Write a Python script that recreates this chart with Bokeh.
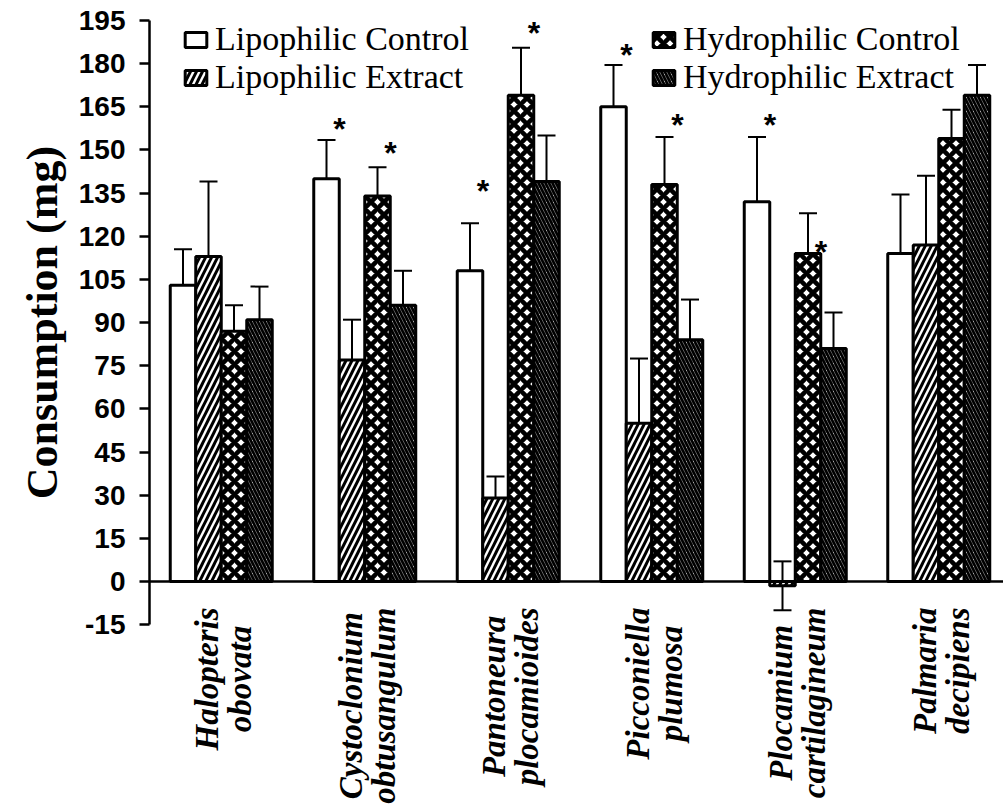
import math
from bokeh.plotting import figure
from bokeh.models import (ColumnDataSource, Whisker, TeeHead, Span, Legend, LegendItem,
                          FixedTicker, Title)
from bokeh.core.properties import value
from bokeh.embed import file_html
from bokeh.resources import INLINE

# ---------------- data ----------------
species_line1 = ["Halopteris", "Cystoclonium", "Pantoneura", "Picconiella", "Plocamium", "Palmaria"]
species_line2 = ["obovata", "obtusangulum", "plocamioides", "plumosa", "cartilagineum", "decipiens"]

series_names = ["Lipophilic Control", "Lipophilic Extract", "Hydrophilic Control", "Hydrophilic Extract"]

lipo_control = [103, 140, 108, 165, 132, 114]
lipo_control_err = [12.5, 13.5, 16.5, 14.5, 22.5, 20.5]
lipo_extract = [113, 77, 29, 55, -1.5, 117]
lipo_extract_err = [26, 14, 7.5, 22.5, 8.5, 24]
hydro_control = [87, 134, 169, 138, 114, 154]
hydro_control_err = [9, 10, 16.5, 16.5, 14, 10]
hydro_extract = [91, 96, 139, 84, 81, 169]
hydro_extract_err = [11.5, 12, 16, 14, 12.5, 10.5]

# height (mg) of each significance star's centre; None = no star
lipo_control_star = [None, 158.5, 137, 184.5, 160, None]
hydro_control_star = [None, 150.5, 192, 160, 116, None]

y_ticks = list(range(-15, 196, 15))
y_tick_labels = {t: str(t) for t in y_ticks}

# ---------------- layout helpers ----------------
FRAME_W, FRAME_H, LEFT = 854, 804, 149
PX_PER_CAT = 143.5
PX_PER_UNIT = 2.877
ZERO_PX = 581
n = len(species_line1)
bar_w = 25.5 / PX_PER_CAT
offsets = [-1.5 * bar_w, -0.5 * bar_w, 0.5 * bar_w, 1.5 * bar_w]

p = figure(width=LEFT + FRAME_W, height=FRAME_H,
           frame_width=FRAME_W, frame_height=FRAME_H,
           x_range=(0, FRAME_W / PX_PER_CAT),
           y_range=(-(FRAME_H - ZERO_PX) / PX_PER_UNIT, ZERO_PX / PX_PER_UNIT),
           x_axis_location=None, output_backend="svg", toolbar_location=None,
           min_border_left=LEFT, min_border_right=0, min_border_top=0, min_border_bottom=0)
p.outline_line_color = None
p.grid.visible = False
p.background_fill_color = "white"
p.border_fill_color = "white"

values = [lipo_control, lipo_extract, hydro_control, hydro_extract]
errors = [lipo_control_err, lipo_extract_err, hydro_control_err, hydro_extract_err]
hatches = [None, "/", "x", "\\"]
hatch_scales = [12, 12, 13, 7]
hatch_weights = [1, 3, 4.5, 2.8]

renderers = []
for k in range(4):
    xs = [i + 0.5 + offsets[k] for i in range(n)]
    src = ColumnDataSource(dict(x=xs, top=values[k],
                                upper=[v + e for v, e in zip(values[k], errors[k])],
                                lower=[v - e for v, e in zip(values[k], errors[k])]))
    kw = dict(x="x", top="top", bottom=0, width=bar_w, source=src,
              fill_color="white", line_color="black", line_width=3)
    if hatches[k]:
        kw.update(hatch_pattern=hatches[k], hatch_color="black",
                  hatch_scale=hatch_scales[k], hatch_weight=hatch_weights[k])
    r = p.vbar(**kw)
    renderers.append(r)
    p.add_layout(Whisker(source=src, base="x", upper="upper", lower="lower", dimension="height",
                         line_color="black", line_width=2,
                         upper_head=TeeHead(size=18, line_width=2, line_color="black"),
                         lower_head=TeeHead(size=18, line_width=2, line_color="black")))

# significance stars
for k, stars in [(0, lipo_control_star), (2, hydro_control_star)]:
    sx = [i + 0.5 + offsets[k] for i in range(n) if stars[i] is not None]
    sy = [s for s in stars if s is not None]
    p.text(x=sx, y=sy, text=["*"] * len(sx), x_offset=13, y_offset=4,
           text_font=value("Liberation Sans"), text_font_style="bold", text_font_size="32px",
           text_align="center", text_baseline="alphabetic", text_color="black")

# zero line
p.add_layout(Span(location=0, dimension="width", line_color="black", line_width=2.5))

# y axis
ax = p.yaxis[0]
ax.bounds = (y_ticks[0], y_ticks[-1])
ax.ticker = FixedTicker(ticks=y_ticks)
ax.major_label_overrides = y_tick_labels
ax.axis_line_width = 2.5
ax.axis_line_color = "black"
ax.major_tick_line_width = 2.5
ax.major_tick_line_color = "black"
ax.major_tick_out = 10
ax.major_tick_in = 0
ax.minor_tick_line_color = None
ax.major_label_text_font = "Liberation Sans"
ax.major_label_text_font_style = "bold"
ax.major_label_text_font_size = "28px"
ax.major_label_text_color = "black"
ax.major_label_standoff = 14

# y axis title, centred on the axis extent (-15 .. 195) rather than on the frame
TITLE_PX = 44
title_text = "Consumption (mg)"
axis_mid_px = ZERO_PX - PX_PER_UNIT * (y_ticks[0] + y_ticks[-1]) / 2
title_len = 8.03 * TITLE_PX
p.add_layout(Title(text=title_text, align="left", vertical_align="top",
                   offset=FRAME_H - (axis_mid_px + title_len / 2),
                   text_font="Liberation Serif", text_font_style="bold",
                   text_font_size=f"{TITLE_PX}px", text_color="black", standoff=14), "left")

# category labels (rotated, two lines, centred along a common top edge)
TBI = dict(a=500, b=500, c=444, d=500, e=444, g=500, i=278, l=278, m=778, n=556, o=500,
           p=500, r=389, s=389, t=278, u=556, v=444, y=444, C=667, H=778, P=611)
LABEL_PX = 33
def text_len(s):
    return sum(TBI.get(ch, 500) for ch in s) / 1000 * LABEL_PX

label_top = -(607 - ZERO_PX) / PX_PER_UNIT
for line_idx, lines, dx in [(0, species_line1, -14), (1, species_line2, 19)]:
    xs = [i + 0.5 for i in range(n)]
    yoff = [max(text_len(a), text_len(b)) / 2 for a, b in zip(species_line1, species_line2)]
    src = ColumnDataSource(dict(x=xs, y=[label_top] * n, t=lines, yoff=yoff))
    p.text(x="x", y="y", text="t", source=src, angle=math.pi / 2, x_offset=dx, y_offset="yoff",
           text_font=value("Liberation Serif"), text_font_style="bold italic",
           text_font_size=f"{LABEL_PX}px", text_align="center", text_baseline="alphabetic",
           text_color="black")

# legends
def make_legend(idx, loc):
    lg = Legend(items=[LegendItem(label=series_names[j], renderers=[renderers[j]]) for j in idx],
                location=loc, orientation="vertical",
                label_text_font="Liberation Serif", label_text_font_size="34px",
                label_text_color="black", glyph_width=27, glyph_height=19,
                label_standoff=6, spacing=-2, padding=0, margin=0,
                border_line_color=None, background_fill_alpha=0)
    p.add_layout(lg, "center")

make_legend([0, 1], (182 - LEFT, FRAME_H - 96))
make_legend([2, 3], (650 - LEFT, FRAME_H - 96))

open("out.html", "w").write(file_html(p, INLINE))
